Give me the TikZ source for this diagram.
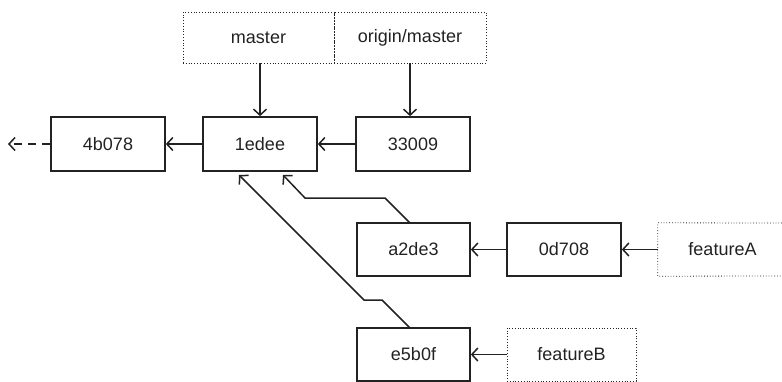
\documentclass[tikz,border=0pt]{standalone}
\usepackage{fontspec}
\setmainfont{Liberation Sans}
\usetikzlibrary{arrows.meta}
\definecolor{ink}{HTML}{222222}
\tikzset{
  commit/.style={draw=ink, line width=1.7pt, minimum width=114pt, minimum height=54pt, inner sep=0pt, text=ink, font=\fontsize{18}{20}\selectfont},
  ref/.style={draw=ink, dotted, line width=0.8pt, minimum height=51pt, inner sep=0pt, text=ink, font=\fontsize{18}{20}\selectfont},
  reftext/.style={inner sep=0pt, minimum width=129pt, minimum height=53pt, text=ink, font=\fontsize{18}{20}\selectfont},
  link/.style={draw=ink, line width=1.5pt, -{Straight Barb[length=6pt,width=13pt,line width=1.5pt]}},
}
\begin{document}
\begin{tikzpicture}[x=1pt,y=-1pt]
\useasboundingbox (0,0) rectangle (782,381);
% commits
\node[commit] (c4b) at (108,144) {4b078};
\node[commit] (c1e) at (260,144) {1edee};
\node[commit] (c33) at (413,144) {33009};
\node[commit, minimum width=113pt, minimum height=53pt] (ca2) at (413.5,249.5) {a2de3};
\node[commit, minimum height=53pt] (c0d) at (564,249.5) {0d708};
\node[commit, minimum width=113pt, minimum height=53pt] (ce5) at (413.5,354.5) {e5b0f};
% refs
\node[ref, minimum width=151pt] (master) at (258.5,37.5) {master};
\node[ref, minimum width=152pt] (origin) at (410,37.5) {origin/master};
\node[reftext] (fA) at (722.5,249.5) {featureA};
\draw[ink, dotted, line width=0.8pt] (782,223) -- (fA.north west) -- (fA.south west) -- (782,276);
\node[ref, minimum width=129pt, minimum height=53pt] (fB) at (571.5,354.5) {featureB};
% coordinates
\coordinate (tail) at (8,144);
\coordinate (a1) at (410,223);
\coordinate (a2) at (385,198);
\coordinate (a3) at (305,198);
\coordinate (a4) at (283,175);
\coordinate (e1) at (410,328);
\coordinate (e2) at (382,300);
\coordinate (e3) at (364,300);
\coordinate (e4) at (239,175);
% connectors
\draw[link] (master.south -| c1e.north) -- (c1e.north);
\draw[link] (origin.south) -- (origin.south |- c33.north);
\draw[link] (c33) -- (c1e);
\draw[link] (c1e) -- (c4b);
\draw[link, dash pattern=on 8pt off 6pt] (c4b.west) -- (tail);
\draw[link] (c0d) -- (ca2);
\draw[link] (fA.west) -- (c0d.east);
\draw[link] (fB) -- (ce5);
\draw[link] (a1) -- (a2) -- (a3) -- (a4);
\draw[link] (e1) -- (e2) -- (e3) -- (e4);
\end{tikzpicture}
\end{document}
